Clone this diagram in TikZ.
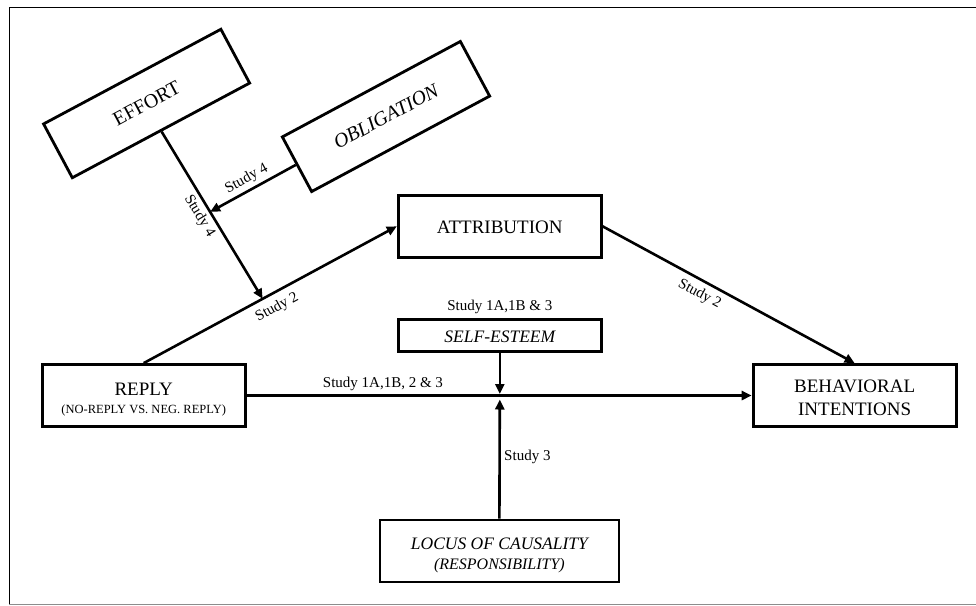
\documentclass[tikz,border=0pt]{standalone}
\usepackage{fontspec}
\setmainfont{Liberation Serif}
\usetikzlibrary{
    calc,
    positioning,
    arrows.meta
}
\newcommand{\boxstrut}[1]{\rule{0pt}{#1}}

\begin{document}
\begin{tikzpicture}[
    x=1pt, y=-1pt,
    box/.style={
        draw,
        line width=2.8pt,
        minimum width=203pt,
        minimum height=62pt,
        inner sep=2pt, align=center,
        font=\fontsize{19}{23}\selectfont
    }, pil/.style={
        -{Triangle[length=10pt,width=9pt]},
        line width=2.6pt
    }, lbl/.style={
        font=\fontsize{15}{18}\selectfont
    }]

    \useasboundingbox (0,0) rectangle (976,605);
    \draw[line width=1.5pt] (976,7.3) -- (9.3,7.3) -- (9.3,604);
    \draw[line width=1.2pt, black!45] (9.3,604.2) -- (976,604.2);

    %%% tilted boxes
    \node[box, rotate=28.1, minimum width=201pt, minimum height=61pt, font=\fontsize{20}{24}\selectfont] (effort) at (146.6,103.5) {EFFORT};
    \node[box, rotate=28.2, minimum width=202pt, minimum height=62pt, font=\fontsize{20}{24}\selectfont\itshape] (oblig) at (386,116.5) {OBLIGATION};

    %%% main boxes
    \node[box] (attr) at (499.7,226.3) {\boxstrut{15pt}ATTRIBUTION};
    \node[box, minimum height=32pt, font=\fontsize{17.5}{21}\selectfont\itshape] (self-est) at (499.8,335.8) {\boxstrut{14pt}SELF-ESTEEM};
    \node[box] (reply) at (143.7,395.5) {\boxstrut{21pt}REPLY\\[-5.5pt]{\fontsize{12.5}{15}\selectfont (NO-REPLY VS. NEG. REPLY)}};
    \node[box] (behav) at (854.6,395.5) {\boxstrut{17pt}BEHAVIORAL\\INTENTIONS};
    \node[box, minimum width=239pt, font=\fontsize{17.5}{21}\selectfont\itshape] (locus) at (499.4,551) {\boxstrut{21pt}LOCUS OF CAUSALITY\\[-1.3pt]{\fontsize{16}{19}\selectfont (RESPONSIBILITY)}};

    \node[lbl, above=1pt of self-est] (self-est-lbl) {Study 1A,1B \& 3};

    %%% EDGES
    \coordinate (effort-end) at ($(reply.north)!0.47!(attr.west)$);
    \coordinate (effort-mid) at ($(effort.south)!0.48!(effort-end)$);
    \coordinate (junc) at (reply.east -| self-est.south);

    \draw[pil] (reply.north) -- node[lbl, sloped, below=3pt, pos=0.5] {Study 2} (attr.west);
    \draw[pil] (effort.south) -- node[lbl, sloped, below, pos=0.47] {Study 4} (effort-end);
    \draw[pil] (oblig.west) -- node[lbl, sloped, above, pos=0.51] {Study 4} (effort-mid);
    \draw[pil] (attr.east) -- node[lbl, sloped, below=2pt, pos=0.41] {Study 2} (behav.north);
    \draw[pil] (reply.east) -- node[lbl, above, pos=0.27] {Study 1A,1B, 2 \& 3} (behav.west);
    \draw[pil, shorten >=1.5pt] (self-est.south) -- (junc);
    \draw[pil, shorten >=4pt] (locus.north) -- node[lbl, right] {Study 3} (junc);

\end{tikzpicture}
\end{document}
